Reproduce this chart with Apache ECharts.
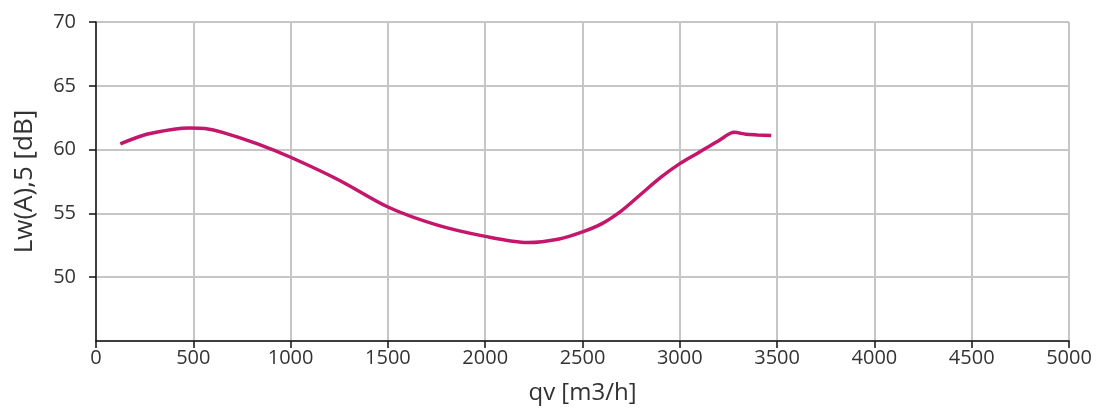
<!DOCTYPE html>
<html>
<head>
<meta charset="utf-8">
<script src="https://cdn.jsdelivr.net/npm/echarts@6/dist/echarts.min.js"></script>
<style>
html,body{margin:0;padding:0;background:#fff;}
#c{width:1100px;height:416px;}
</style>
</head>
<body>
<div id="c"></div>
<script>
var qv = [125, 260, 400, 480, 560, 650, 830, 1000, 1250, 1500, 1750, 2000, 2220, 2380, 2500, 2600, 2700, 2800, 2900, 3000, 3100, 3200, 3280, 3340, 3400, 3470];
var lw = [60.45, 61.2, 61.6, 61.7, 61.65, 61.35, 60.45, 59.4, 57.6, 55.5, 54.1, 53.2, 52.72, 53.0, 53.55, 54.2, 55.2, 56.5, 57.8, 58.9, 59.8, 60.7, 61.35, 61.2, 61.15, 61.1];
var xName = 'qv [m3/h]';
var yName = 'Lw(A),5 [dB]';

var chart = echarts.init(document.getElementById('c'));
var font = 'Open Sans';
chart.setOption({
  animation: false,
  backgroundColor: '#fff',
  grid: {left: 96, right: 31, top: 22, bottom: 75},
  xAxis: {
    type: 'value', min: 0, max: 5000, interval: 500,
    name: xName, nameLocation: 'middle', nameGap: 40,
    nameTextStyle: {fontFamily: font, fontSize: 24, color: '#333'},
    axisLine: {show: true, lineStyle: {color: '#111', width: 1.5}},
    axisTick: {show: true, length: 7, lineStyle: {color: '#111', width: 1.5}},
    axisLabel: {fontFamily: font, fontSize: 20, color: '#333', margin: 7,
      formatter: function (v) { return String(v); }},
    splitLine: {show: true, lineStyle: {color: '#c6c6c6', width: 2}}
  },
  yAxis: {
    type: 'value', min: 45, max: 70, interval: 5,
    name: yName, nameLocation: 'middle', nameGap: 58, nameRotate: 90,
    nameTextStyle: {fontFamily: font, fontSize: 26, color: '#333'},
    axisLine: {show: true, lineStyle: {color: '#111', width: 1.5}},
    axisTick: {show: true, length: 7, lineStyle: {color: '#111', width: 1.5}},
    axisLabel: {fontFamily: font, fontSize: 20, color: '#333', margin: 20, showMinLabel: false,
      formatter: function (v) { return v === 45 ? '' : String(v); }},
    splitLine: {show: true, lineStyle: {color: '#c6c6c6', width: 2}}
  },
  series: [{
    type: 'line',
    data: qv.map(function (x, i) { return [x, lw[i]]; }),
    smooth: 0.3,
    showSymbol: false,
    lineStyle: {color: '#c4176b', width: 3.5}
  }]
});
</script>
</body>
</html>
